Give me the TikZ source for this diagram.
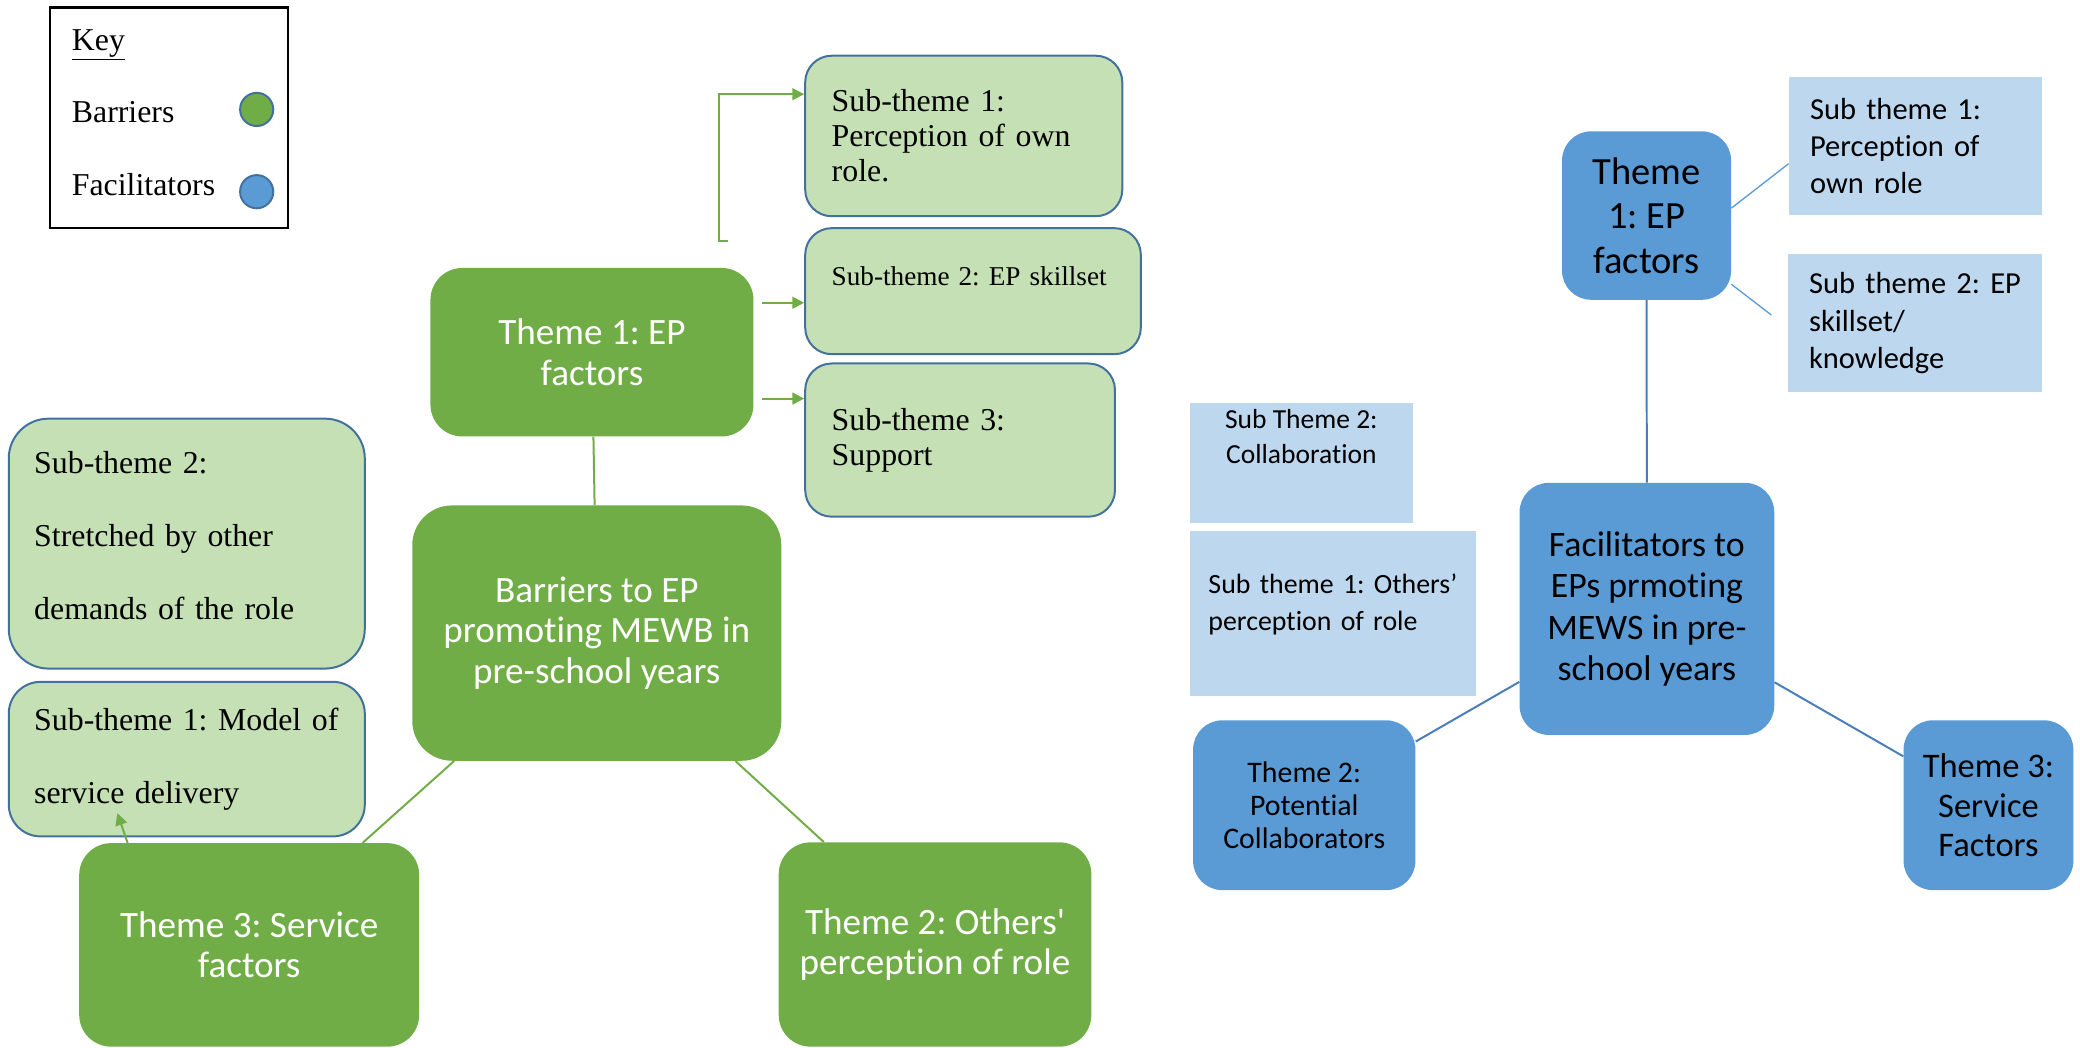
\documentclass[tikz,border=0pt]{standalone}
\usepackage{fontspec}
\setmainfont{Liberation Serif}
\newfontfamily\calibri[Ligatures=NoCommon]{Carlito}
\usetikzlibrary{arrows.meta}
\definecolor{bargreen}{HTML}{70AD47}
\definecolor{subgreen}{HTML}{C5E0B4}
\definecolor{edgeblue}{HTML}{41719C}
\definecolor{facblue}{HTML}{5B9BD5}
\definecolor{subblue}{HTML}{BDD7EE}
\definecolor{lineblue}{HTML}{4A7EBB}
\frenchspacing
\hyphenpenalty=10000
\tikzset{
        keybox/.style={draw=black, line width=2pt, minimum width=179.3pt, minimum height=166.4pt},
        keytext/.style={anchor=base west, inner sep=0pt, font=\fontsize{24}{26}\selectfont},
        keydot/.style={circle, draw=edgeblue, line width=1.5pt, minimum size=25pt, inner sep=0pt},
        bartheme/.style={fill=bargreen, rounded corners=24pt, text=white, align=center, inner sep=2pt,
                font=\calibri\fontsize{28}{30.6}\selectfont},
        barsub/.style={draw=edgeblue, fill=subgreen, line width=1.5pt, rounded corners=20pt, align=left,
                inner xsep=20pt, inner ysep=2pt, font=\fontsize{24}{26.5}\selectfont},
        factheme/.style={fill=facblue, rounded corners=22pt, align=center, inner sep=2pt},
        facsub/.style={fill=subblue, align=left, inner ysep=2pt},
        barline/.style={draw=bargreen, line width=1.5pt},
        bararrow/.style={barline, -{Triangle[length=9pt,width=9pt]}},
        facline/.style={draw=lineblue, line width=1.5pt},
        subline/.style={draw=facblue, line width=1pt}
        }
\begin{document}
\frenchspacing
\begin{tikzpicture}[x=1pt, y=-1pt]
        \useasboundingbox (0,0) rectangle (1568,790);
        % key
        \node[keybox](key) at (127.35,88.8) {};
        \node[keytext](kkey) at (54,38.2) {\underline{Key}};
        \node[keytext](kbar) at (54,92.3) {Barriers};
        \node[keytext](kfac) at (54,147.4) {Facilitators};
        \node[keydot, fill=bargreen](dbar) at (193.5,82.5) {};
        \node[keydot, fill=facblue](dfac) at (193.5,144.5) {};
        % barriers
        \node[bartheme, minimum width=278.2pt, minimum height=192.5pt, rounded corners=30pt](bar) at (449.9,477.25) {Barriers to EP\\promoting MEWB in\\pre-school years};
        \node[bartheme, minimum width=243.5pt, minimum height=127pt](gt1) at (446.25,265.5) {Theme 1: EP\\factors};
        \node[bartheme, minimum width=256.3pt, minimum height=153.4pt](gt3) at (187.85,712.3) {Theme 3: Service\\factors};
        \node[bartheme, minimum width=235.7pt, minimum height=154pt](gt2) at (704.85,712) {Theme 2: Others'\\perception of role};
        \node[barsub, minimum height=121pt, text width=199pt](bs1) at (726.5,102.5) {Sub-theme 1:\\Perception of own\\role.};
        \node[barsub, minimum height=95pt, text width=213pt, text depth=23pt, font=\fontsize{20.5}{24}\selectfont](bs2) at (733.5,219.5) {Sub-theme 2: EP skillset};
        \node[barsub, minimum height=115.5pt, text width=193.5pt](bs3) at (723.75,331.75) {Sub-theme 3:\\Support};
        \node[barsub, minimum height=188.4pt, text width=230pt, inner xsep=19.2pt, rounded corners=30pt, text depth=122pt, font=\fontsize{24}{55}\selectfont](ls2) at (140.8,409.8) {Sub-theme 2:\\Stretched by other\\demands of the role};
        \node[barsub, minimum height=116.5pt, text width=230pt, inner xsep=19.2pt, rounded corners=24pt, font=\fontsize{24}{55}\selectfont](ls1) at (140.8,572.25) {Sub-theme 1: Model of\\service delivery};
        \coordinate (brk) at (549,182);
        \coordinate (tip) at (88.5,613);
        \draw[barline] (gt1) -- (bar);
        \draw[barline] (bar) -- (gt3);
        \draw[barline] (bar) -- (gt2);
        \draw[bararrow] (brk) -- ++(-7,0) |- ([yshift=31.5pt]bs1.west);
        \draw[bararrow] ([xshift=6pt]gt1.17) -- (gt1.17 -| bs2.west);
        \draw[bararrow] ([xshift=6pt]gt1.-16) -- (gt1.-16 -| bs3.west);
        \draw[bararrow] (gt3.140.7) -- (tip);
        % facilitators
        \node[factheme, minimum width=192pt, minimum height=190pt, font=\calibri\fontsize{27}{31.3}\selectfont](fac) at (1241.5,459) {Facilitators to\\EPs prmoting\\MEWS in pre-\\school years};
        \node[factheme, minimum width=127.5pt, minimum height=127pt, font=\calibri\fontsize{29}{33.5}\selectfont](ft1) at (1241.25,162.5) {Theme\\1: EP\\factors};
        \node[factheme, minimum width=167.6pt, minimum height=128pt, font=\calibri\fontsize{22.5}{25.2}\selectfont](ft2) at (983.2,607) {Theme 2:\\Potential\\Collaborators};
        \node[factheme, minimum width=128pt, minimum height=128pt, font=\calibri\fontsize{26}{29.5}\selectfont](ft3) at (1499,607) {Theme 3:\\Service\\Factors};
        \node[facsub, minimum height=104pt, text width=158.5pt, inner xsep=16pt, font=\calibri\fontsize{23}{28}\selectfont](fs1) at (1443.75,110) {Sub theme 1:\\Perception of\\own role};
        \node[facsub, minimum height=104pt, text width=159.5pt, inner xsep=16pt, font=\calibri\fontsize{23}{28.5}\selectfont](fs2) at (1443.5,243.55) {\mbox{Sub theme 2: EP}\\skillset/\\knowledge};
        \node[facsub, minimum width=168pt, minimum height=90.6pt, align=center, text depth=41pt, font=\calibri\fontsize{20.75}{26.4}\selectfont](fcol) at (981,349.3) {Sub Theme 2:\\Collaboration};
        \node[facsub, minimum height=124.4pt, text width=187.7pt, inner xsep=14pt, text depth=45pt, font=\calibri\fontsize{21}{27.6}\selectfont](foth) at (1004.85,462.8) {Sub theme 1: Others’\\perception of role};
        \draw[facline] (ft1) -- (fac);
        \draw[facline] (fac) -- (ft2);
        \draw[facline] (fac) -- (ft3);
        \draw[subline] (ft1.5) -- (fs1.188);
        \draw[subline, shorten >=15.5pt] (ft1.-39) -- (fs2.182.25);
\end{tikzpicture}
\end{document}
